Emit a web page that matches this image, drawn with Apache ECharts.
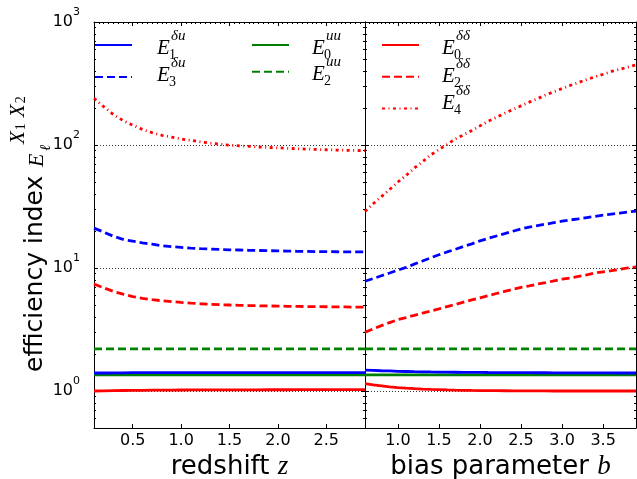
<!DOCTYPE html>
<html><head><meta charset="utf-8">
<script src="https://cdn.jsdelivr.net/npm/echarts@6/dist/echarts.min.js"></script>
<style>html,body{margin:0;padding:0;background:#fff}#c{width:637px;height:479px}</style>
</head><body><div id="c"></div>
<script>
// ---------- data ----------
const zVals = [0.1,0.2,0.3,0.4,0.5,0.6,0.7,0.8,0.9,1.0,1.1,1.2,1.3,1.4,1.5,1.6,1.7,1.8,1.9,2.0,2.1,2.2,2.3,2.4,2.5,2.6,2.7,2.8,2.9];
const bVals = [0.6,0.7,0.8,0.9,1.0,1.1,1.2,1.3,1.4,1.5,1.6,1.7,1.8,1.9,2.0,2.1,2.2,2.3,2.4,2.5,2.6,2.7,2.8,2.9,3.0,3.1,3.2,3.3,3.4,3.5,3.6,3.7,3.8,3.9];

// redshift panel
const zE1du = [1.40,1.40,1.405,1.405,1.41,1.41,1.41,1.41,1.41,1.41,1.41,1.41,1.41,1.41,1.41,1.41,1.41,1.41,1.41,1.41,1.41,1.41,1.41,1.41,1.41,1.41,1.41,1.41,1.41];
const zE3du = [21.1,19.6,18.1,17.1,16.5,16.0,15.6,15.2,14.9,14.7,14.5,14.35,14.25,14.15,14.05,14.0,13.93,13.87,13.82,13.77,13.72,13.67,13.63,13.6,13.57,13.55,13.53,13.51,13.5];
const zE0uu = [1.35,1.35,1.35,1.35,1.35,1.35,1.35,1.35,1.35,1.35,1.35,1.35,1.35,1.35,1.35,1.35,1.35,1.35,1.35,1.35,1.35,1.35,1.35,1.35,1.35,1.35,1.35,1.35,1.35];
const zE2uu = [2.2,2.2,2.2,2.2,2.2,2.2,2.2,2.2,2.2,2.2,2.2,2.2,2.2,2.2,2.2,2.2,2.2,2.2,2.2,2.2,2.2,2.2,2.2,2.2,2.2,2.2,2.2,2.2,2.2];
const zE0dd = [1.0,1.003,1.006,1.009,1.011,1.013,1.015,1.016,1.017,1.018,1.019,1.02,1.02,1.021,1.021,1.022,1.022,1.022,1.023,1.023,1.023,1.024,1.024,1.024,1.024,1.025,1.025,1.025,1.025];
const zE2dd = [7.4,6.9,6.45,6.12,5.85,5.65,5.52,5.42,5.33,5.25,5.18,5.12,5.07,5.03,5.0,4.97,4.95,4.93,4.91,4.9,4.88,4.87,4.86,4.85,4.84,4.83,4.82,4.81,4.8];
const zE4dd = [240,205,177,158,145,134,126,120,116,112,109,106,103.5,101.5,99.5,98.5,97.5,96.3,95.5,94.8,94,93.2,92.6,92,91.5,91,90.6,90.3,90];

// bias panel
const bE1du = [1.48,1.47,1.46,1.455,1.445,1.44,1.435,1.432,1.428,1.425,1.422,1.42,1.418,1.416,1.415,1.413,1.412,1.411,1.41,1.41,1.408,1.407,1.406,1.405,1.405,1.404,1.403,1.402,1.402,1.401,1.401,1.4,1.4,1.4];
const bE3du = [7.8,8.2,8.65,9.1,9.6,10.1,10.75,11.4,12.1,12.8,13.5,14.2,14.95,15.7,16.6,17.4,18.2,19.0,19.9,20.8,21.5,22.1,22.7,23.4,24.0,24.6,25.1,25.7,26.3,26.9,27.4,27.9,28.5,29.0];
const bE0uu = [1.35,1.35,1.35,1.35,1.35,1.35,1.35,1.35,1.35,1.35,1.35,1.35,1.35,1.35,1.35,1.35,1.35,1.35,1.35,1.35,1.35,1.35,1.35,1.35,1.35,1.35,1.35,1.35,1.35,1.35,1.35,1.35,1.35,1.35];
const bE2uu = [2.2,2.2,2.2,2.2,2.2,2.2,2.2,2.2,2.2,2.2,2.2,2.2,2.2,2.2,2.2,2.2,2.2,2.2,2.2,2.2,2.2,2.2,2.2,2.2,2.2,2.2,2.2,2.2,2.2,2.2,2.2,2.2,2.2,2.2];
const bE0dd = [1.15,1.12,1.10,1.08,1.066,1.055,1.045,1.036,1.03,1.025,1.02,1.016,1.013,1.01,1.008,1.006,1.005,1.004,1.003,1.002,1.002,1.001,1.001,1.0,1.0,1.0,1.0,1.0,1.0,1.0,1.0,1.0,1.0,1.0];
const bE2dd = [3.0,3.2,3.4,3.6,3.8,3.95,4.12,4.3,4.47,4.65,4.85,5.05,5.28,5.5,5.72,5.96,6.2,6.45,6.7,6.95,7.15,7.4,7.6,7.85,8.1,8.3,8.55,8.8,9.1,9.3,9.5,9.75,10.0,10.2];
const bE4dd = [28.8,33.3,38,43.5,50,56.5,65,73,83,92,101,112,121,131,143,156,168,181,194,208,223,238,255,271,288,305,322,341,358,376,396,412,430,448];

// tick labels
const xTicksLeft = [0.5,1.0,1.5,2.0,2.5];
const xTicksRight = [1.0,1.5,2.0,2.5,3.0,3.5];
const yMajor = [1,10,100,1000];
const yMinor = [0.6,0.7,0.8,0.9,2,3,4,5,6,7,8,9,20,30,40,50,60,70,80,90,200,300,400,500,600,700,800,900];

// ---------- styling ----------
const TXT = '"DejaVu Sans", sans-serif';
const MATH = '"Liberation Serif", "DejaVu Serif", serif';
const AX = {color:'#000', width:1};
const BLUE = '#0000ff', GREEN = '#008000', RED = '#ff0000';
const DASH = [8,4], DDOT = [3,3.5,1,3.5];
const LW = 2.8;

function steps(a, b, s) { const r = []; for (let v = a; v <= b + 1e-9; v += s) r.push(Math.round(v*100)/100); return r; }
const topMinorL = steps(0.1, 2.9, 0.05);
const topMinorR = steps(0.6, 3.9, 0.05);

const LEFT = {min:0.1, max:2.9}, RIGHT = {min:0.6, max:3.9};

function xBottom(grid, rng, ticks, nameRich) {
  return {gridIndex:grid, type:'value', min:rng.min, max:rng.max, position:'bottom',
    axisLine:{show:true, onZero:false, lineStyle:AX},
    axisTick:{show:true, inside:true, length:4, customValues:ticks, lineStyle:AX},
    axisLabel:{show:true, customValues:ticks, formatter:v=>v.toFixed(1), fontSize:16, fontFamily:TXT, color:'#000', margin:5},
    splitLine:{show:false},
    name:nameRich, nameLocation:'middle', nameGap:24,
    nameTextStyle:{rich:{
      t:{fontSize:26, fontFamily:TXT, color:'#000'},
      m:{fontSize:27, fontFamily:MATH, fontStyle:'italic', color:'#000'}}}};
}
function xTop(grid, rng, ticks, len, line) {
  return {gridIndex:grid, type:'value', min:rng.min, max:rng.max, position:'top',
    axisLine:{show:line, onZero:false, lineStyle:AX},
    axisTick:{show:true, inside:true, length:len, customValues:ticks, lineStyle:AX},
    axisLabel:{show:false}, splitLine:{show:false}};
}
function xHidden(grid, rng) {
  return {gridIndex:grid, type:'value', min:rng.min, max:rng.max, position:'bottom', show:false};
}
function yAx(grid, pos, ticks, len, opts) {
  const o = {gridIndex:grid, type:'log', logBase:10, min:0.5, max:1000, position:pos,
    axisLine:{show:!!opts.line, onZero:false, lineStyle:AX},
    axisTick:{show:true, inside:true, length:len, customValues:ticks, lineStyle:AX},
    axisLabel:{show:false},
    splitLine:{show:!!opts.split, lineStyle:{color:'#000', width:0.8, type:[1,2]}}};
  if (opts.labels) {
    o.axisLabel = {show:true, customValues:yMajor, margin:14,
      formatter:v=>'{b|10}{s|' + Math.round(Math.log10(v)) + '}',
      rich:{b:{fontSize:16, fontFamily:TXT, color:'#000', lineHeight:30, verticalAlign:'middle'},
            s:{fontSize:11, fontFamily:TXT, color:'#000', lineHeight:8, verticalAlign:'top'}}};
  }
  return o;
}

function ser(name, xs, ys, color, dash, idx) {
  return {name:name, type:'line', xAxisIndex:idx, yAxisIndex:idx,
    data:xs.map((x,i)=>[x, ys[i]]), symbol:'none', showSymbol:false, silent:true,
    lineStyle:{color:color, width:LW, type:dash, cap:'butt'}, itemStyle:{color:color}};
}

const series = [
  ser('E0dd', zVals, zE0dd, RED, 'solid', 0),
  ser('E2dd', zVals, zE2dd, RED, DASH, 0),
  ser('E4dd', zVals, zE4dd, RED, DDOT, 0),
  ser('E2uu', zVals, zE2uu, GREEN, DASH, 0),
  ser('E0uu', zVals, zE0uu, GREEN, 'solid', 0),
  ser('E3du', zVals, zE3du, BLUE, DASH, 0),
  ser('E1du', zVals, zE1du, BLUE, 'solid', 0),
  ser('E0dd', bVals, bE0dd, RED, 'solid', 1),
  ser('E2dd', bVals, bE2dd, RED, DASH, 1),
  ser('E4dd', bVals, bE4dd, RED, DDOT, 1),
  ser('E2uu', bVals, bE2uu, GREEN, DASH, 1),
  ser('E0uu', bVals, bE0uu, GREEN, 'solid', 1),
  ser('E3du', bVals, bE3du, BLUE, DASH, 1),
  ser('E1du', bVals, bE1du, BLUE, 'solid', 1)
];

function mathE(x, cy, sub, sup) {
  const base = {fill:'#000', verticalAlign:'middle', align:'left'};
  return [
    {type:'text', x:x, y:cy, style:Object.assign({text:'E', font:'italic 21px ' + MATH}, base)},
    {type:'text', x:x+14, y:cy-12, style:Object.assign({text:sup, font:'italic 15px ' + MATH}, base)},
    {type:'text', x:x+12, y:cy+7, style:Object.assign({text:sub, font:'14px ' + MATH}, base)}
  ];
}

const TRANSP = 'rgba(0,0,0,0)';
const legendBase = {orient:'vertical', itemWidth:37, itemHeight:14, formatter:()=>' ',
  itemStyle:{color:TRANSP, borderColor:TRANSP, borderWidth:0},
  textStyle:{fontSize:12, lineHeight:14}, selectedMode:false, padding:0};

const gridBox = (l)=>({left:l, top:22, width:271, height:406, outerBoundsMode:'none', containLabel:false});

const option = {
  animation:false,
  backgroundColor:'#fff',
  grid:[gridBox(94), gridBox(365), gridBox(94), gridBox(365)],
  xAxis:[
    xBottom(0, LEFT, xTicksLeft, '{t|redshift }{m|z}'),
    xBottom(1, RIGHT, xTicksRight, '{t|bias parameter }{m|b}'),
    xTop(0, LEFT, xTicksLeft, 4, true),
    xTop(1, RIGHT, xTicksRight, 4, true),
    xHidden(2, LEFT),
    xHidden(3, RIGHT),
    xTop(2, LEFT, topMinorL, 2, false),
    xTop(3, RIGHT, topMinorR, 2, false)
  ],
  yAxis:[
    yAx(0, 'left', yMajor, 4, {line:true, split:true, labels:true}),
    yAx(1, 'left', yMajor, 4, {line:true, split:true}),
    yAx(0, 'right', yMajor, 4, {line:true}),
    yAx(1, 'right', yMajor, 4, {line:true}),
    yAx(2, 'left', yMinor, 2, {}),
    yAx(3, 'left', yMinor, 2, {}),
    yAx(2, 'right', yMinor, 2, {}),
    yAx(3, 'right', yMinor, 2, {})
  ],
  legend:[
    Object.assign({left:94, top:38, itemGap:18, data:['E1du','E3du']}, legendBase),
    Object.assign({left:251, top:38, itemGap:12.7, data:['E0uu','E2uu']}, legendBase),
    Object.assign({left:381, top:38, itemGap:17.7, data:['E0dd','E2dd','E4dd']}, legendBase)
  ],
  graphic:[
    {type:'group', x:35, y:372, rotation:Math.PI/2, children:[
      {type:'text', x:0, y:0, style:{text:'efficiency index', font:'25px ' + TXT, fill:'#000', verticalAlign:'middle', align:'left'}},
      {type:'text', x:205, y:2.5, style:{text:'E', font:'italic 22px ' + MATH, fill:'#000', verticalAlign:'middle', align:'left'}},
      {type:'text', x:221, y:11.5, style:{text:'ℓ', font:'italic 15px ' + MATH, fill:'#000', verticalAlign:'middle', align:'left'}},
      {type:'text', x:226, y:-17, style:{text:'{x|X}{n|1}{x|X}{n|2}', fill:'#000', verticalAlign:'middle', align:'left',
        rich:{x:{font:'italic 21px ' + MATH, fill:'#000', padding:[0,1,0,2]}, n:{font:'14px ' + MATH, fill:'#000', verticalAlign:'bottom', padding:[0,4,0,0]}}}}
    ]}
  ].concat(
    mathE(157, 48.5, '1', 'δu'), mathE(157, 75, '3', 'δu'),
    mathE(312, 48.5, '0', 'uu'), mathE(312, 74, '2', 'uu'),
    mathE(442, 48.5, '0', 'δδ'), mathE(442, 76, '2', 'δδ'), mathE(442, 103.5, '4', 'δδ')
  ),
  series:series
};

const chart = echarts.init(document.getElementById('c'), null, {renderer:'canvas'});
chart.setOption(option);
</script>
</body></html>
